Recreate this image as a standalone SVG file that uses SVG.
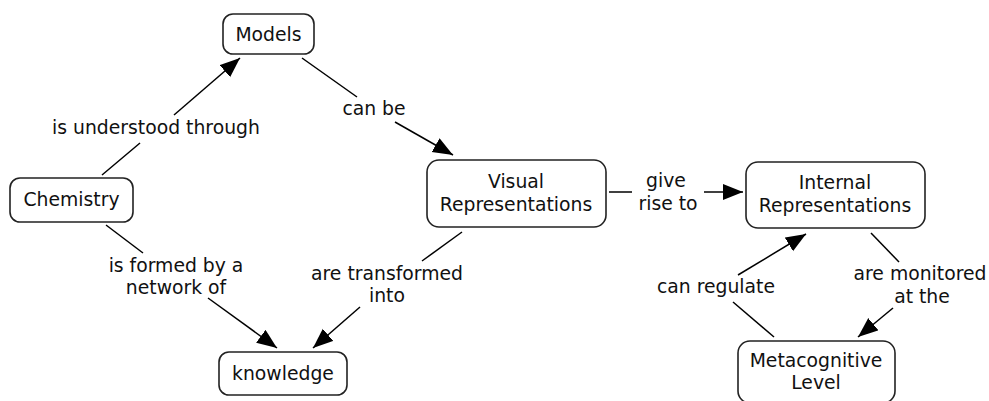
<svg xmlns="http://www.w3.org/2000/svg" width="989" height="401" viewBox="0 0 989 401">
  <defs>
    <marker id="arrow" markerUnits="userSpaceOnUse" markerWidth="22" markerHeight="18" refX="20" refY="8" orient="auto">
      <path d="M0,0 L20,8 L0,16 Z" fill="#000"/>
    </marker>
    <style>
      .box { fill: #fff; stroke: #222; stroke-width: 1.6; }
      .lbl { font-family: "DejaVu Sans", Verdana, sans-serif; font-size: 18.8px; fill: #111; text-anchor: middle; }
      .edge { fill: none; stroke: #000; stroke-width: 1.5; }
    </style>
  </defs>
  <rect width="989" height="401" fill="#fff"/>

  <!-- connectors and linking phrases -->
  <g id="connectors">
    <line class="edge" x1="102" y1="175" x2="140" y2="143"/>
    <line class="edge" x1="174" y1="115" x2="240" y2="58" marker-end="url(#arrow)"/>
    <text class="lbl" x="156" y="134">is understood through</text>

    <line class="edge" x1="302" y1="58" x2="357" y2="97"/>
    <line class="edge" x1="395" y1="122" x2="453" y2="155" marker-end="url(#arrow)"/>
    <text class="lbl" x="374" y="115">can be</text>

    <line class="edge" x1="106" y1="225" x2="143" y2="253"/>
    <line class="edge" x1="208" y1="298" x2="277" y2="348" marker-end="url(#arrow)"/>
    <text class="lbl" x="176" y="272">is formed by a</text>
    <text class="lbl" x="176" y="294">network of</text>

    <line class="edge" x1="462" y1="232" x2="422" y2="261"/>
    <line class="edge" x1="360" y1="307" x2="313" y2="348" marker-end="url(#arrow)"/>
    <text class="lbl" x="387" y="280">are transformed</text>
    <text class="lbl" x="387" y="302">into</text>

    <line class="edge" x1="609" y1="192" x2="632" y2="192"/>
    <line class="edge" x1="704" y1="192" x2="743" y2="192" marker-end="url(#arrow)"/>
    <text class="lbl" x="666" y="187">give</text>
    <text class="lbl" x="668" y="210">rise to</text>

    <line class="edge" x1="774" y1="337" x2="733" y2="302"/>
    <line class="edge" x1="738" y1="275" x2="806" y2="234" marker-end="url(#arrow)"/>
    <text class="lbl" x="716" y="293">can regulate</text>

    <line class="edge" x1="871" y1="233" x2="899" y2="262"/>
    <line class="edge" x1="893" y1="308" x2="858" y2="337" marker-end="url(#arrow)"/>
    <text class="lbl" x="920" y="280">are monitored</text>
    <text class="lbl" x="922" y="303">at the</text>
  </g>

  <!-- concept nodes -->
  <g id="models">
    <rect class="box" x="223" y="14" width="91" height="40" rx="10"/>
    <text class="lbl" x="268.5" y="41">Models</text>
  </g>
  <g id="chemistry">
    <rect class="box" x="10" y="178" width="123" height="44" rx="10"/>
    <text class="lbl" x="71.5" y="206">Chemistry</text>
  </g>
  <g id="knowledge">
    <rect class="box" x="219" y="352" width="128" height="43" rx="10"/>
    <text class="lbl" x="283" y="380">knowledge</text>
  </g>
  <g id="visual-representations">
    <rect class="box" x="427" y="160" width="179" height="67" rx="12"/>
    <text class="lbl" x="516" y="188">Visual</text>
    <text class="lbl" x="516" y="211">Representations</text>
  </g>
  <g id="internal-representations">
    <rect class="box" x="746" y="162" width="179" height="66" rx="12"/>
    <text class="lbl" x="835" y="189">Internal</text>
    <text class="lbl" x="835" y="212">Representations</text>
  </g>
  <g id="metacognitive-level">
    <rect class="box" x="738" y="341" width="157" height="62" rx="12"/>
    <text class="lbl" x="816" y="367">Metacognitive</text>
    <text class="lbl" x="816" y="389">Level</text>
  </g>
</svg>
